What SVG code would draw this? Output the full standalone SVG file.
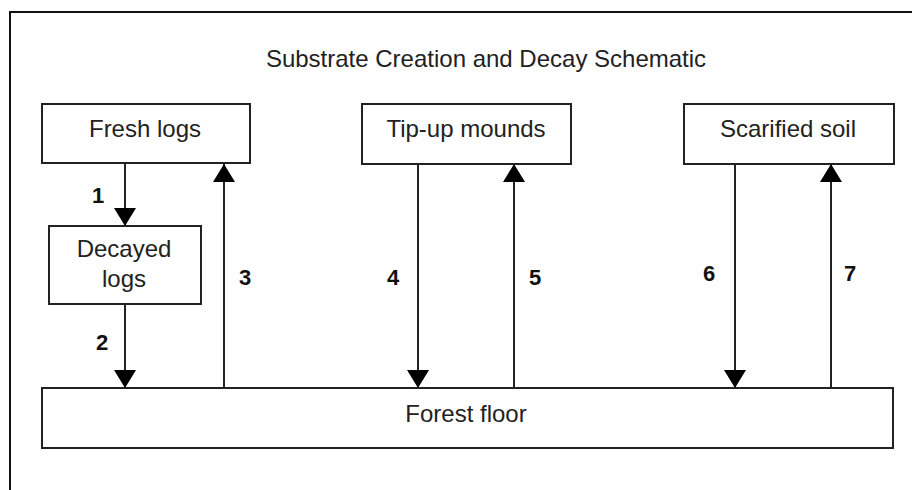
<svg xmlns="http://www.w3.org/2000/svg" width="912" height="490" viewBox="0 0 912 490">
<defs>
<style>
.box{fill:#fff;stroke:#222;stroke-width:2}
.lbl{font-family:"Liberation Sans",Arial,sans-serif;font-size:24px;fill:#222;text-anchor:middle}
.num{font-family:"Liberation Sans",Arial,sans-serif;font-size:22px;font-weight:bold;fill:#111;text-anchor:middle}
.conn{stroke:#222;stroke-width:2;fill:none;marker-end:url(#ah)}
.frame{stroke:#111;stroke-width:2;fill:none}
</style>
<marker id="ah" viewBox="0 0 18 22" refX="18" refY="11" markerWidth="18" markerHeight="22" markerUnits="userSpaceOnUse" orient="auto">
<path d="M0,0 L18,11 L0,22 Z" fill="#000"/>
</marker>
</defs>
<rect width="912" height="490" fill="#fff"/>
<path class="frame" d="M10,490 L10,12 L912,12"/>
<text id="title" class="lbl" x="486" y="67">Substrate Creation and Decay Schematic</text>
<g id="connectors">
<line class="conn" x1="125" y1="164" x2="125" y2="226"/>
<line class="conn" x1="125" y1="304" x2="125" y2="388"/>
<line class="conn" x1="224" y1="388" x2="224" y2="164"/>
<line class="conn" x1="418" y1="164" x2="418" y2="388"/>
<line class="conn" x1="514" y1="388" x2="514" y2="164"/>
<line class="conn" x1="735" y1="164" x2="735" y2="388"/>
<line class="conn" x1="831" y1="388" x2="831" y2="164"/>
<text class="num" x="98" y="203">1</text>
<text class="num" x="102" y="350">2</text>
<text class="num" x="245" y="285">3</text>
<text class="num" x="393" y="285">4</text>
<text class="num" x="535" y="285">5</text>
<text class="num" x="709" y="281">6</text>
<text class="num" x="850" y="281">7</text>
</g>
<g id="fresh-logs">
<rect class="box" x="42" y="104" width="208" height="59"/>
<text class="lbl" x="145" y="137">Fresh logs</text>
</g>
<g id="decayed-logs">
<rect class="box" x="49" y="226" width="152" height="78"/>
<text class="lbl" x="124" y="257">Decayed</text>
<text class="lbl" x="124" y="287">logs</text>
</g>
<g id="tip-up-mounds">
<rect class="box" x="362" y="104" width="209" height="60"/>
<text class="lbl" x="466" y="137">Tip-up mounds</text>
</g>
<g id="scarified-soil">
<rect class="box" x="684" y="104" width="210" height="60"/>
<text class="lbl" x="788" y="137">Scarified soil</text>
</g>
<g id="forest-floor">
<rect class="box" x="42" y="388" width="851" height="60"/>
<text class="lbl" x="466" y="422">Forest floor</text>
</g>
</svg>
